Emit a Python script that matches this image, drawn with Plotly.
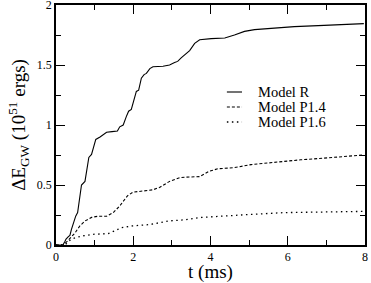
import plotly.graph_objects as go

# Model R
t_R = [0.0, 0.18, 0.23, 0.26, 0.32, 0.36, 0.40, 0.45, 0.51, 0.56, 0.62, 0.66, 0.75, 0.81, 0.85,
       0.92, 0.99, 1.03, 1.14, 1.22, 1.31, 1.45, 1.59, 1.65, 1.74, 1.82, 1.88, 1.95, 2.04, 2.08,
       2.14, 2.21, 2.28, 2.34, 2.43, 2.51, 2.77, 2.94, 3.07, 3.15, 3.24, 3.33, 3.46, 3.59, 3.72,
       4.02, 4.37, 4.62, 4.88, 5.14, 5.65, 6.17, 6.94, 7.97]
E_R = [0.0, 0.0, 0.03, 0.05, 0.07, 0.08, 0.13, 0.19, 0.24, 0.27, 0.42, 0.50, 0.53, 0.64, 0.73,
       0.755, 0.84, 0.88, 0.90, 0.92, 0.94, 0.945, 0.95, 0.985, 1.0, 1.07, 1.115, 1.13, 1.25, 1.28,
       1.29, 1.39, 1.42, 1.43, 1.47, 1.485, 1.49, 1.50, 1.52, 1.53, 1.56, 1.585, 1.62, 1.68, 1.71,
       1.72, 1.725, 1.75, 1.78, 1.795, 1.81, 1.82, 1.83, 1.845]

# Model P1.4
t_P14 = [0.0, 0.19, 0.32, 0.49, 0.62, 0.75, 0.92, 1.09, 1.31, 1.48, 1.65, 1.78, 1.85, 1.99,
         2.34, 2.51, 2.68, 2.81, 2.94, 3.2, 3.33, 3.72, 3.97, 4.19, 4.62, 5.05, 5.48, 5.91,
         6.34, 6.77, 7.2, 7.97]
E_P14 = [0.0, 0.0, 0.04, 0.10, 0.16, 0.20, 0.23, 0.24, 0.24, 0.27, 0.325, 0.38, 0.41, 0.44,
         0.45, 0.46, 0.48, 0.505, 0.53, 0.56, 0.565, 0.57, 0.615, 0.635, 0.645, 0.67, 0.685, 0.70,
         0.71, 0.72, 0.73, 0.75]

# Model P1.6
t_P16 = [0.0, 0.23, 0.40, 0.66, 1.0, 1.35, 1.57, 1.69, 1.99, 2.43, 2.90, 3.33, 3.77, 4.19,
         5.05, 5.91, 6.77, 7.97]
E_P16 = [0.0, 0.0, 0.05, 0.075, 0.09, 0.095, 0.125, 0.145, 0.16, 0.17, 0.20, 0.21, 0.23, 0.24,
         0.255, 0.27, 0.275, 0.28]

series_names = ["Model R", "Model P1.4", "Model P1.6"]
x_ticks = [0, 2, 4, 6, 8]
y_ticks = [0, 0.5, 1, 1.5, 2]
y_tick_labels = ["0", "0.5", "1", "1.5", "2"]

FONT = "Liberation Serif, DejaVu Serif, serif"
styles = [dict(color="black", width=1.1),
          dict(color="black", width=1.1, dash="3px,2px"),
          dict(color="black", width=1.3, dash="1.5px,3.5px")]

fig = go.Figure()
for xs, ys, name, st in zip([t_R, t_P14, t_P16], [E_R, E_P14, E_P16], series_names, styles):
    fig.add_trace(go.Scatter(x=xs, y=ys, mode="lines", name=name, line=st, showlegend=False))

axis_common = dict(
    showline=True, linecolor="black", linewidth=1.5, mirror="ticks",
    ticks="inside", ticklen=9, tickwidth=1.2, tickcolor="black",
    showgrid=False, zeroline=False, automargin=False, ticklabeloverflow="allow",
    tickfont=dict(family=FONT, size=12, color="black"),
)

fig.update_xaxes(range=[0, 8], tickvals=x_ticks, ticktext=[str(v) for v in x_ticks],
                 minor=dict(dtick=1, ticks="inside", ticklen=5, tickwidth=1.2, tickcolor="black", showgrid=False),
                 title=dict(text="t (ms)", font=dict(family=FONT, size=19, color="black"), standoff=3),
                 **axis_common)
fig.update_yaxes(range=[0, 2], tickvals=y_ticks, ticktext=y_tick_labels,
                 minor=dict(dtick=0.25, ticks="inside", ticklen=5, tickwidth=1.2, tickcolor="black", showgrid=False),
                 title=dict(text="ΔE<sub>GW</sub> (10<sup>51</sup> ergs)",
                            font=dict(family=FONT, size=19, color="black"), standoff=6),
                 **axis_common)

# legend drawn as line samples + labels in paper coordinates
leg_x0, leg_x1, leg_tx = 0.553, 0.602, 0.648
leg_rows = [0.6375, 0.575, 0.5125]
for name, st, yy in zip(series_names, styles, leg_rows):
    fig.add_shape(type="line", xref="paper", yref="paper", x0=leg_x0, x1=leg_x1, y0=yy, y1=yy,
                  line=st)
    fig.add_annotation(xref="paper", yref="paper", x=leg_tx, y=yy, text=name, showarrow=False,
                       xanchor="left", yanchor="middle",
                       font=dict(family=FONT, size=14.5, color="black"))

fig.update_layout(
    width=371, height=283,
    margin=dict(l=56, r=6, t=5, b=38),
    paper_bgcolor="white", plot_bgcolor="white",
    showlegend=False,
)

fig.write_html("out.html", config={"displayModeBar": False},
               post_script="document.body.style.margin='0';")
